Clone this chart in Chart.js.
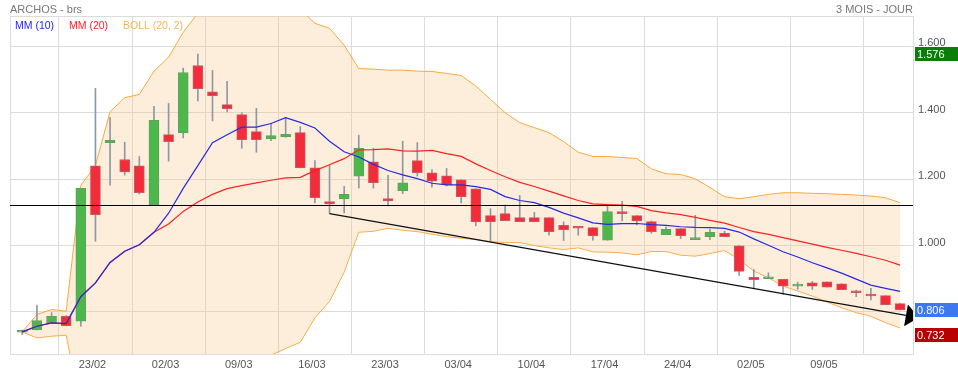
<!DOCTYPE html>
<html>
<head>
<meta charset="utf-8">
<script src="https://cdn.jsdelivr.net/npm/chart.js@4.4.1/dist/chart.umd.min.js"></script>
<style>
  html, body { margin: 0; padding: 0; background: #fff; }
  #wrap { width: 958px; height: 375px; }
</style>
</head>
<body>
<div id="wrap"><canvas id="chart" width="958" height="375"></canvas></div>
<script>
// daily candles, index 0..60
var opens  = [0.739,0.746,0.768,0.787,0.772,1.240,1.310,1.259,1.240,1.123,
              1.334,1.339,1.542,1.463,1.424,1.394,1.343,1.321,1.327,1.340,
              1.234,1.132,1.140,1.209,1.252,1.141,1.165,1.256,1.219,1.210,
              1.198,1.171,1.090,1.096,1.084,1.084,1.084,1.061,1.057,1.054,
              1.016,1.102,1.090,1.072,1.033,1.051,1.018,1.027,1.037,0.999,
              0.904,0.900,0.898,0.878,0.888,0.891,0.885,0.864,0.853,0.849,0.825];
var highs  = [0.746,0.820,0.798,0.789,1.172,1.473,1.385,1.311,1.268,1.419,
              1.428,1.534,1.576,1.527,1.494,1.400,1.413,1.367,1.386,1.358,
              1.256,1.241,1.178,1.332,1.293,1.211,1.314,1.310,1.229,1.232,
              1.198,1.171,1.111,1.122,1.151,1.100,1.084,1.071,1.057,1.054,
              1.119,1.133,1.090,1.074,1.056,1.051,1.091,1.049,1.043,1.000,
              0.928,0.918,0.898,0.890,0.892,0.891,0.885,0.866,0.871,0.849,0.825];
var lows   = [0.732,0.746,0.768,0.758,0.757,1.013,1.182,1.212,1.155,1.123,
              1.254,1.324,1.435,1.375,1.402,1.293,1.281,1.316,1.326,1.234,
              1.128,1.096,1.098,1.173,1.173,1.119,1.156,1.209,1.176,1.179,
              1.128,1.059,1.013,1.075,1.072,1.072,1.031,1.015,1.031,1.016,
              1.016,1.074,1.062,1.037,1.033,1.021,1.018,1.018,1.027,0.910,
              0.870,0.900,0.853,0.868,0.868,0.875,0.867,0.846,0.836,0.822,0.806];
var closes = [0.741,0.774,0.787,0.759,1.172,1.093,1.317,1.222,1.159,1.377,
              1.313,1.521,1.472,1.451,1.412,1.319,1.319,1.331,1.335,1.234,
              1.144,1.125,1.154,1.293,1.189,1.134,1.189,1.219,1.194,1.183,
              1.147,1.071,1.072,1.075,1.072,1.072,1.042,1.048,1.052,1.030,
              1.102,1.096,1.074,1.042,1.049,1.030,1.024,1.040,1.027,0.922,
              0.897,0.904,0.878,0.883,0.878,0.875,0.867,0.858,0.848,0.822,0.806];

// MM (10)
var mm10 = [0.740,0.757,0.767,0.765,0.846,0.8875,0.9489,0.983,1.0026,1.040,
            1.0973,1.172,1.2405,1.3097,1.3337,1.3563,1.3565,1.3674,1.385,1.3707,
            1.3538,1.3142,1.2824,1.2666,1.2443,1.2258,1.2128,1.2016,1.1875,1.1824,
            1.1827,1.1773,1.1691,1.1473,1.1356,1.1294,1.1147,1.0976,1.0834,1.0681,
            1.0636,1.0661,1.0663,1.063,1.0607,1.0565,1.0547,1.0539,1.0514,1.0406,
            1.0201,1.0009,0.9813,0.9654,0.9483,0.9328,0.9171,0.8989,0.881,0.871,0.8619];
// MM (20)
var mm20 = [0.740,0.757,0.767,0.765,0.846,0.8875,0.9489,0.983,1.0026,1.040,
            1.0648,1.1028,1.1312,1.1541,1.1713,1.1805,1.1886,1.1966,1.2038,1.2054,
            1.2256,1.2431,1.2615,1.2882,1.289,1.2911,1.2847,1.2845,1.2863,1.2766,
            1.2683,1.2458,1.2258,1.207,1.19,1.1776,1.1638,1.1496,1.1355,1.1253,
            1.1232,1.1217,1.1177,1.1052,1.0982,1.093,1.0847,1.0758,1.0674,1.0544,
            1.0419,1.0335,1.0238,1.0142,1.0045,0.9947,0.9859,0.9764,0.9662,0.9558,0.941];
// BOLL (20, 2)
var bollUpper = [0.740,0.7925,0.8076,0.8025,1.181,1.241,1.403,1.445,1.455,1.525,
                 1.567,1.642,1.700,1.714,1.731,1.730,1.729,1.727,1.722,1.711,
                 1.669,1.654,1.603,1.533,1.531,1.528,1.528,1.525,1.524,1.518,
                 1.512,1.480,1.440,1.400,1.370,1.355,1.340,1.313,1.281,1.268,
                 1.268,1.265,1.262,1.231,1.216,1.214,1.201,1.175,1.147,1.141,
                 1.147,1.154,1.159,1.159,1.157,1.156,1.154,1.152,1.149,1.144,1.129];
var bollLower = [0.740,0.722,0.727,0.730,0.511,0.534,0.495,0.521,0.550,0.555,
                 0.563,0.564,0.562,0.594,0.611,0.630,0.649,0.670,0.690,0.709,
                 0.782,0.832,0.920,1.040,1.043,1.052,1.046,1.042,1.034,1.027,
                 1.022,1.018,1.012,1.009,1.009,1.000,0.993,0.988,0.993,0.981,
                 0.980,0.978,0.972,0.982,0.982,0.971,0.968,0.976,0.985,0.958,
                 0.923,0.903,0.878,0.863,0.848,0.830,0.813,0.798,0.787,0.768,0.752];

var tickIndex  = [5,10,15,20,25,30,35,40,45,50,55];
var dateLabels = ['23/02','02/03','09/03','16/03','23/03','03/04','10/04','17/04','24/04','02/05','09/05'];
var priceTicks = [0.8,1.0,1.2,1.4,1.6];

var supportLevel = 1.123;
var trendLine = [{x: 21, y: 1.096}, {x: 60.4, y: 0.790}];

var tagValues = [1.576, 0.806, 0.732];
var tagColors = ['#0a7d0a', '#3c78f0', '#b80000'];

function xy(arr){ return arr.map(function(v,i){ return {x: i, y: v}; }); }

var up = closes.map(function(c,i){ return c >= opens[i]; });
var bodies = closes.map(function(c,i){ return {x: i, y: [opens[i], c]}; });
var wicks = highs.map(function(h,i){ return {x: i, y: [lows[i], h]}; });

Chart.defaults.font.family = "'Liberation Sans', Arial, sans-serif";
Chart.defaults.font.size = 11;
Chart.defaults.color = '#555';

var overlay = {
    id: 'overlay',
    beforeDatasetsDraw: function(chart){
        var ctx = chart.ctx, a = chart.chartArea;
        ctx.save();
        ctx.strokeStyle = '#dcdcdc';
        ctx.lineWidth = 1;
        ctx.strokeRect(Math.round(a.left)+0.5, Math.round(a.top)+0.5,
                       Math.round(a.right-a.left), Math.round(a.bottom-a.top));
        ctx.restore();
    },
    afterDatasetsDraw: function(chart){
        var ctx = chart.ctx, a = chart.chartArea;
        var xs = chart.scales.x, ys = chart.scales.y;
        ctx.save();
        ctx.beginPath();
        ctx.rect(a.left, a.top, a.right-a.left, a.bottom-a.top);
        ctx.clip();
        // support level
        var yl = Math.round(ys.getPixelForValue(supportLevel)) + 0.5;
        ctx.strokeStyle = '#000';
        ctx.lineWidth = 1.2;
        ctx.beginPath();
        ctx.moveTo(a.left, yl);
        ctx.lineTo(a.right, yl);
        ctx.stroke();
        // arrow head at end of trend line
        var p0x = xs.getPixelForValue(trendLine[0].x), p0y = ys.getPixelForValue(trendLine[0].y);
        var p1x = xs.getPixelForValue(trendLine[1].x), p1y = ys.getPixelForValue(trendLine[1].y);
        var dx = p1x - p0x, dy = p1y - p0y, len = Math.sqrt(dx*dx + dy*dy);
        dx /= len; dy /= len;
        var L = 13, W = 11;
        ctx.fillStyle = '#000';
        ctx.beginPath();
        ctx.moveTo(p1x + dx*L, p1y + dy*L);
        ctx.lineTo(p1x - dy*W, p1y + dx*W);
        ctx.lineTo(p1x + dy*W, p1y - dx*W);
        ctx.closePath();
        ctx.fill();
        ctx.restore();
    },
    afterDraw: function(chart){
        var ctx = chart.ctx, a = chart.chartArea, ys = chart.scales.y;
        ctx.save();
        ctx.textBaseline = 'alphabetic';
        ctx.font = "11px 'Liberation Sans', Arial, sans-serif";
        ctx.fillStyle = '#777';
        ctx.textAlign = 'left';
        ctx.fillText('ARCHOS - brs', 10, 13);
        ctx.textAlign = 'right';
        ctx.fillText('3 MOIS - JOUR', a.right, 13);
        // legend
        ctx.textAlign = 'left';
        ctx.font = "10.5px 'Liberation Sans', Arial, sans-serif";
        ctx.fillStyle = '#1f1fff';
        ctx.fillText('MM (10)', 15, 29);
        ctx.fillStyle = '#ff1f1f';
        ctx.fillText('MM (20)', 69, 29);
        ctx.fillStyle = '#f9b25a';
        ctx.fillText('BOLL (20, 2)', 123, 29);
        // price tags
        ctx.font = "11px 'Liberation Sans', Arial, sans-serif";
        ctx.textBaseline = 'middle';
        tagValues.forEach(function(v, i){
            var y = Math.round(ys.getPixelForValue(v));
            ctx.fillStyle = tagColors[i];
            ctx.fillRect(a.right + 2, y - 7, 43, 14);
            ctx.fillStyle = '#fff';
            ctx.fillText(v.toFixed(3), a.right + 4, y + 0.5);
        });
        ctx.restore();
    }
};

new Chart(document.getElementById('chart').getContext('2d'), {
    type: 'line',
    data: {
        datasets: [
            {
                type: 'line', label: 'BOLL up', data: xy(bollUpper),
                borderColor: '#f9a93e', borderWidth: 1, backgroundColor: 'rgba(248,200,140,0.3)',
                fill: '+1', pointRadius: 0, tension: 0, order: 10
            },
            {
                type: 'line', label: 'BOLL down', data: xy(bollLower),
                borderColor: '#f9a93e', borderWidth: 1, fill: false,
                pointRadius: 0, tension: 0, order: 10
            },
            {
                type: 'bar', label: 'wicks', data: wicks,
                backgroundColor: '#8e98a4', barThickness: 1, grouped: false, order: 8
            },
            {
                type: 'bar', label: 'bodies', data: bodies,
                backgroundColor: up.map(function(u){ return u ? '#4cb84c' : '#f22c38'; }),
                borderColor: up.map(function(u){ return u ? '#62a060' : '#c85a66'; }),
                borderWidth: 1, borderSkipped: false, barThickness: 10, minBarLength: 2,
                grouped: false, order: 7
            },
            {
                type: 'line', label: 'MM (20)', data: xy(mm20),
                borderColor: '#ff2020', borderWidth: 1.2, pointRadius: 0, tension: 0, fill: false, order: 5
            },
            {
                type: 'line', label: 'MM (10)', data: xy(mm10),
                borderColor: '#2a2ae0', borderWidth: 1.2, pointRadius: 0, tension: 0, fill: false, order: 4
            },
            {
                type: 'line', label: 'trend', data: trendLine,
                borderColor: '#111', borderWidth: 1.3, pointRadius: 0, tension: 0, fill: false, order: 2
            }
        ]
    },
    options: {
        responsive: false,
        animation: false,
        devicePixelRatio: 1,
        layout: { padding: { left: 10, top: 16, right: 0, bottom: 0 } },
        plugins: { legend: { display: false }, tooltip: { enabled: false }, title: { display: false } },
        scales: {
            x: {
                type: 'linear', min: -0.84, max: 60.88, offset: false,
                grid: { color: '#dcdcdc', drawTicks: false },
                border: { display: true, color: '#dcdcdc' },
                afterBuildTicks: function(scale){ scale.ticks = tickIndex.map(function(v){ return {value: v}; }); },
                afterFit: function(scale){ scale.height = 21; },
                ticks: {
                    padding: 4, maxRotation: 0, autoSkip: false, labelOffset: -3,
                    callback: function(v, i){ return dateLabels[i]; }
                }
            },
            y: {
                type: 'linear', position: 'right', min: 0.6735, max: 1.691,
                grid: { color: '#dcdcdc', drawTicks: false },
                border: { display: true, color: '#dcdcdc' },
                afterBuildTicks: function(scale){ scale.ticks = priceTicks.map(function(v){ return {value: v}; }); },
                afterFit: function(scale){ scale.width = 45; },
                ticks: {
                    padding: 5, labelOffset: -3,
                    callback: function(v){ return v.toFixed(3); }
                }
            }
        }
    },
    plugins: [overlay]
});
</script>
</body>
</html>
